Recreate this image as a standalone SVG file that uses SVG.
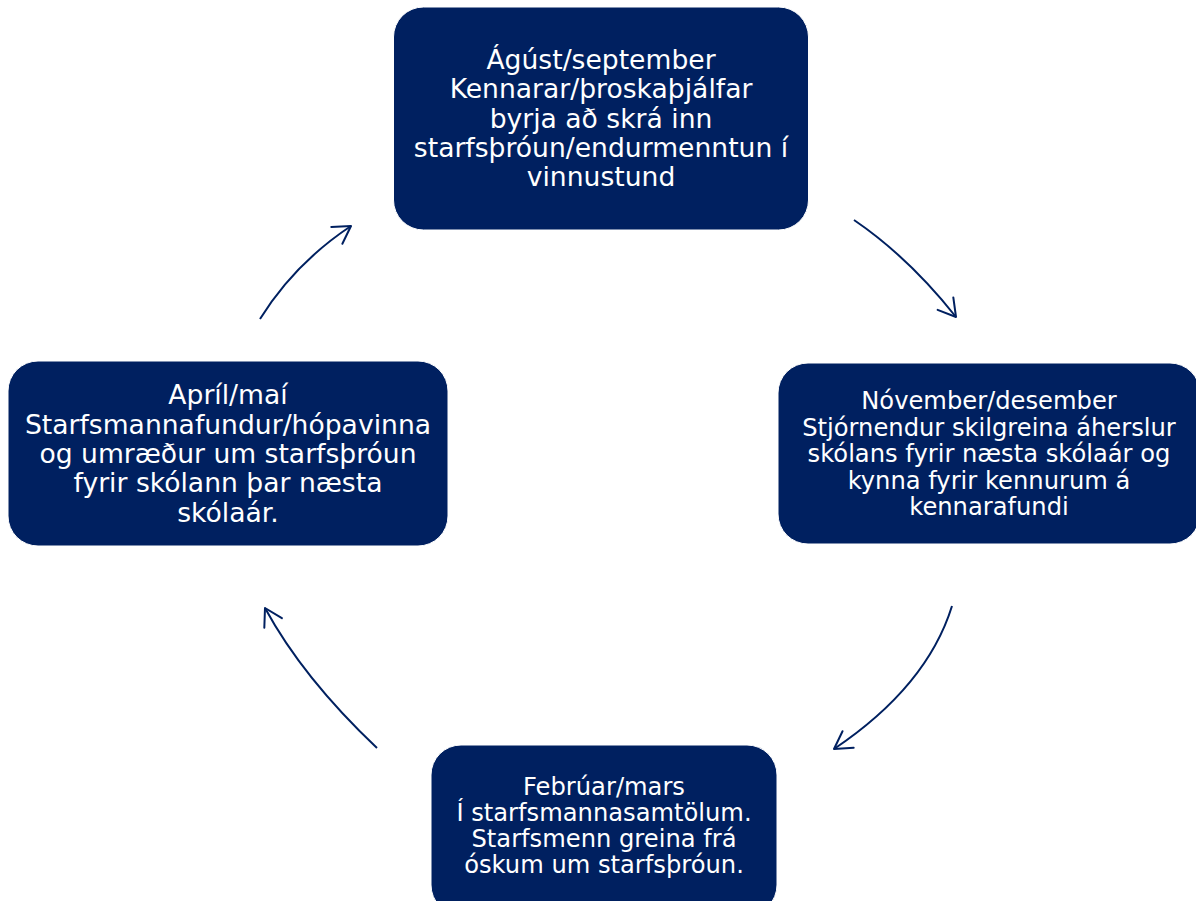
<svg xmlns="http://www.w3.org/2000/svg" width="1196" height="901" viewBox="0 0 1196 901">
<style>
.box{fill:#002060;stroke:#ffffff;stroke-width:1}
.t{fill:#ffffff;font-family:"DejaVu Sans",Verdana,sans-serif;text-anchor:middle}
.big{font-size:26.6px}
.sm{font-size:24.2px}
.arr{fill:none;stroke:#002060;stroke-width:2}
</style>
<defs>
<marker id="ah" markerUnits="userSpaceOnUse" markerWidth="40" markerHeight="40" viewBox="-20 -20 40 40" refX="0" refY="0" orient="auto" overflow="visible">
<path d="M-17,-10 L0,0 L-17,10" fill="none" stroke="#002060" stroke-width="2" stroke-linecap="round" stroke-linejoin="round"/>
</marker>
</defs>
<rect width="1196" height="901" fill="#ffffff"/>
<g id="connectors">
<path class="arr" d="M854,220 Q909,257.5 956,317" marker-end="url(#ah)"/>
<path class="arr" d="M952,606 Q927,686.5 834,749" marker-end="url(#ah)"/>
<path class="arr" d="M377,748 Q303,678 265,608" marker-end="url(#ah)"/>
<path class="arr" d="M260,319 Q294.5,263.5 351,226" marker-end="url(#ah)"/>
</g>
<g id="node-top">
<rect class="box" x="393.5" y="7" width="415" height="223" rx="30"/>
<text class="t big" x="601" y="69">Ágúst/september</text>
<text class="t big" x="601" y="98.3">Kennarar/þroskaþjálfar</text>
<text class="t big" x="601" y="127.6">byrja að skrá inn</text>
<text class="t big" x="601" y="156.9">starfsþróun/endurmenntun í</text>
<text class="t big" x="601" y="186.2">vinnustund</text>
</g>
<g id="node-right">
<rect class="box" x="778" y="363" width="422" height="181" rx="30"/>
<text class="t sm" x="989" y="409">Nóvember/desember</text>
<text class="t sm" x="989" y="435.6">Stjórnendur skilgreina áherslur</text>
<text class="t sm" x="989" y="462.2">skólans fyrir næsta skólaár og</text>
<text class="t sm" x="989" y="488.8">kynna fyrir kennurum á</text>
<text class="t sm" x="989" y="515.4">kennarafundi</text>
</g>
<g id="node-bottom">
<rect class="box" x="431" y="745" width="346" height="170" rx="30"/>
<text class="t sm" x="604" y="795">Febrúar/mars</text>
<text class="t sm" x="604" y="821">Í starfsmannasamtölum.</text>
<text class="t sm" x="604" y="847">Starfsmenn greina frá</text>
<text class="t sm" x="604" y="873">óskum um starfsþróun.</text>
</g>
<g id="node-left">
<rect class="box" x="8" y="361" width="440" height="185" rx="30"/>
<text class="t big" x="228" y="404.4">Apríl/maí</text>
<text class="t big" x="228" y="433.7">Starfsmannafundur/hópavinna</text>
<text class="t big" x="228" y="463">og umræður um starfsþróun</text>
<text class="t big" x="228" y="492.3">fyrir skólann þar næsta</text>
<text class="t big" x="228" y="521.6">skólaár.</text>
</g>
</svg>
